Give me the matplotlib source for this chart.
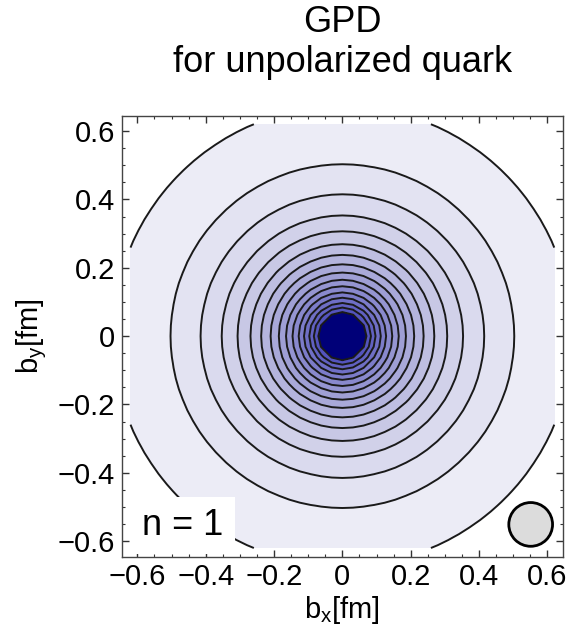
import numpy as np
import matplotlib
matplotlib.use("Agg")
import matplotlib.pyplot as plt
from matplotlib.colors import LinearSegmentedColormap
from matplotlib.ticker import MultipleLocator, FuncFormatter
from matplotlib.patches import Circle

plt.rcParams['font.family'] = ['Liberation Sans', 'DejaVu Sans']

# impact-parameter grid (fm) on which the density is sampled
b_extent = 0.62
n_grid = 41
# exponential fall-off length of the transverse density (fm)
decay_length = 0.197
# contour levels of the normalised density
levels = [0.033, 0.078, 0.122, 0.167, 0.211, 0.256, 0.300, 0.345,
          0.389, 0.434, 0.478, 0.523, 0.567, 0.612, 0.656, 0.701]
# transverse lattice resolution marker (centre, radius) in fm
res_center = (0.551, -0.551)
res_radius = 0.064
ticks = [-0.6, -0.4, -0.2, 0.0, 0.2, 0.4, 0.6]

bx = np.linspace(-b_extent, b_extent, n_grid)
by = np.linspace(-b_extent, b_extent, n_grid)
BX, BY = np.meshgrid(bx, by)
density = np.exp(-np.hypot(BX, BY) / decay_length)

fig = plt.figure(figsize=(5.74, 6.33), dpi=100)
ax = fig.add_axes([0.2125, 0.120, 0.768, 0.698])

cmap = LinearSegmentedColormap.from_list(
    "lav", ["#f0f0f8", "#c3c3e3", "#9090cf", "#4e4ebb"])
cmap.set_over("#000078")
ax.contourf(BX, BY, density, levels=levels, cmap=cmap, extend="max")
ax.contour(BX, BY, density, levels=levels, colors="#1a1a1a", linewidths=1.4)

ax.set_xlim(-0.645, 0.645)
ax.set_ylim(-0.645, 0.645)
ax.set_aspect("equal")

def fmt(v, pos):
    if abs(v) < 1e-9:
        return "0"
    s = f"{abs(v):.1f}"
    return ("\u2212" + s) if v < 0 else s

ax.xaxis.set_minor_locator(MultipleLocator(0.05))
ax.yaxis.set_minor_locator(MultipleLocator(0.05))
ax.set_xticks(ticks)
ax.set_yticks(ticks)
ax.xaxis.set_major_formatter(FuncFormatter(fmt))
ax.yaxis.set_major_formatter(FuncFormatter(fmt))
ax.tick_params(which="both", direction="in", top=True, right=True,
               labelsize=21, color="#333333")
ax.tick_params(which="major", length=5, width=1, pad=5)
ax.tick_params(which="minor", length=2.5, width=0.8)
for sp in ax.spines.values():
    sp.set_color("#444444")
    sp.set_linewidth(1.0)

ax.set_xlabel(r"b$_\mathregular{x}$[fm]", fontsize=21, labelpad=2)
ax.set_ylabel(r"b$_\mathregular{y}$[fm]", fontsize=21, labelpad=6)

fig.text(0.596, 0.965, "GPD", ha="center", va="center", fontsize=26)
fig.text(0.596, 0.902, "for unpolarized quark", ha="center", va="center",
         fontsize=26)

ax.text(-0.585, -0.555, "n = 1", fontsize=26, ha="left", va="center",
        bbox=dict(boxstyle="square,pad=0.3", facecolor="white",
                  edgecolor="none"), zorder=5)

ax.add_patch(Circle(res_center, res_radius, facecolor="#dcdcdc",
                    edgecolor="black", linewidth=2, zorder=6))

fig.savefig("out.png", dpi=100)
